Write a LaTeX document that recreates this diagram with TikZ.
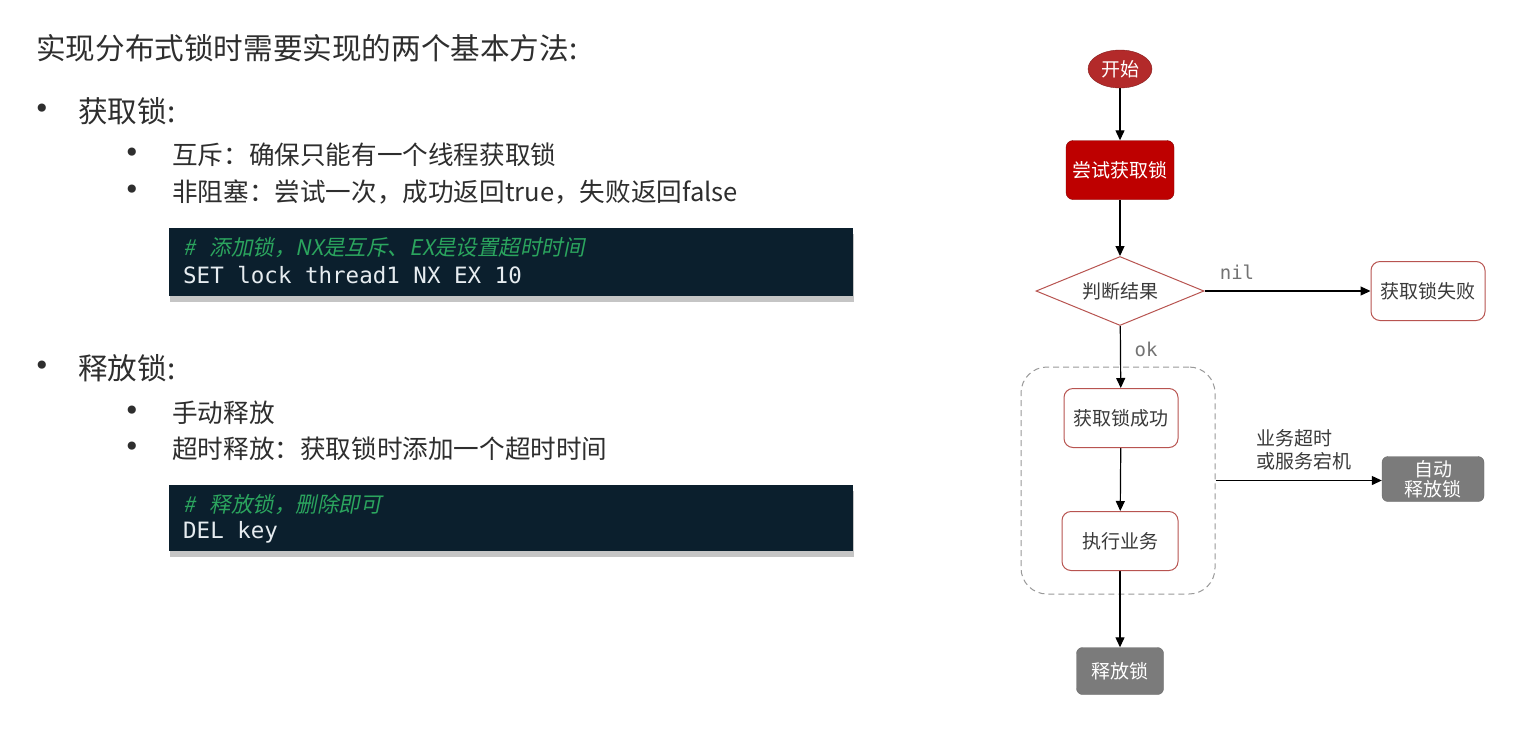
\documentclass[tikz,border=0pt]{standalone}
\usepackage{fontspec}
\setmainfont{Noto Sans CJK SC}
\newfontfamily\codefont{DejaVu Sans Mono}
\newfontfamily\dotfont{DejaVu Sans}
\newfontfamily\notefont{Noto Sans CJK SC}[FakeSlant=0.2]
\usepackage{xcolor}
\usetikzlibrary{backgrounds}
\usetikzlibrary{arrows.meta,shadows}
\usetikzlibrary{shapes,shapes.geometric,shapes.misc}
\pgfdeclarelayer{edgelayer}
\pgfdeclarelayer{nodelayer}
\pgfsetlayers{background,edgelayer,nodelayer,main}
\definecolor{textgray}{HTML}{2E2E2E}
\definecolor{flowtext}{HTML}{3A3A3A}
\definecolor{codebg}{HTML}{0B1F2D}
\definecolor{codetext}{HTML}{E6ECF0}
\definecolor{notegreen}{HTML}{2BA55E}
\definecolor{startred}{HTML}{B32A2A}
\definecolor{lockred}{HTML}{BE0000}
\definecolor{boxred}{HTML}{B85450}
\definecolor{boxgray}{HTML}{7B7B7B}
\tikzstyle{none}=[inner sep=0mm]
\tikzstyle{txt}=[inner sep=0mm,anchor=west,text=textgray,font=\fontsize{29.6}{34}\selectfont]
\tikzstyle{subtxt}=[txt,font=\fontsize{25.6}{30}\selectfont]
\tikzstyle{dotb}=[inner sep=0mm,text=textgray,font=\dotfont\fontsize{28}{30}\selectfont]
\tikzstyle{codebox}=[rectangle,fill=codebg,minimum width=684pt,drop shadow={shadow xshift=1pt,shadow yshift=-6pt,opacity=0.45}]
\tikzstyle{note}=[inner sep=0mm,anchor=west,text=notegreen,font=\notefont\fontsize{21.5}{24}\selectfont]
\tikzstyle{code}=[inner sep=0mm,anchor=west,text=codetext,font=\codefont\fontsize{22.5}{26}\selectfont]
\tikzstyle{rs}=[ellipse,fill=startred,draw=startred!75!black,text=white,minimum width=64pt,minimum height=38pt,inner sep=0pt,font=\fontsize{19}{23}\selectfont]
\tikzstyle{rb}=[rectangle,rounded corners=7pt,fill=lockred,draw=lockred!70!black,text=white,minimum width=108pt,minimum height=59pt,font=\fontsize{19}{23}\selectfont]
\tikzstyle{wb}=[rectangle,rounded corners=9pt,fill=white,draw=boxred,line width=1pt,text=flowtext,minimum width=114pt,minimum height=59pt,font=\fontsize{19}{23}\selectfont]
\tikzstyle{gb}=[rectangle,rounded corners=6pt,fill=boxgray,draw=boxgray!85!black,text=white,align=center,font=\fontsize{19}{23}\selectfont]
\tikzstyle{dm}=[diamond,aspect=2.4,draw=boxred,line width=1pt,fill=white,minimum width=168pt,minimum height=69pt,inner sep=0pt,text=flowtext,font=\fontsize{19}{23}\selectfont]
\tikzstyle{grp}=[rectangle,rounded corners=26pt,draw=gray!80,line width=1pt,dash pattern=on 6pt off 4pt,minimum width=194pt,minimum height=227pt]
\tikzstyle{lbl}=[inner sep=0mm,text=flowtext,font=\fontsize{19}{23}\selectfont]
\tikzstyle{monolbl}=[inner sep=0mm,text=gray!90!black,font=\codefont\fontsize{19}{23}\selectfont]
\tikzstyle{diredge}=[-{Triangle[length=10pt,width=9pt]},line width=1.2pt]

\begin{document}
\begin{tikzpicture}[x=1pt,y=-1pt]
	\useasboundingbox (0,0) rectangle (1536,729);
	\begin{pgfonlayer}{nodelayer}
		\node [style=txt] (t0) at (36, 48) {实现分布式锁时需要实现的两个基本方法:};
		\node [style=dotb] (b1) at (42, 111) {•};
		\node [style=txt] (t1) at (78, 111) {获取锁:};
		\node [style=dotb] (b2) at (132, 155) {•};
		\node [style=subtxt] (t2) at (172, 155) {互斥：确保只能有一个线程获取锁};
		\node [style=dotb] (b3) at (132, 192) {•};
		\node [style=subtxt] (t3) at (172, 192) {非阻塞：尝试一次，成功返回true，失败返回false};
		\node [style=codebox, minimum height=68pt] (c1) at (511, 262) {};
		\node [style=note] (n1) at (183, 248) {\#\ \ \ 添加锁，NX是互斥、EX是设置超时时间};
		\node [style=code] (k1) at (183, 275) {SET lock thread1 NX EX 10};
		\node [style=dotb] (b4) at (42, 368) {•};
		\node [style=txt] (t4) at (78, 368) {释放锁:};
		\node [style=dotb] (b5) at (132, 413) {•};
		\node [style=subtxt] (t5) at (172, 413) {手动释放};
		\node [style=dotb] (b6) at (132, 449) {•};
		\node [style=subtxt] (t6) at (172, 449) {超时释放：获取锁时添加一个超时时间};
		\node [style=codebox, minimum height=66pt] (c2) at (511, 518) {};
		\node [style=note] (n2) at (183, 505) {\#\ \ \ 释放锁，删除即可};
		\node [style=code] (k2) at (183, 532) {DEL key};
		% flow
		\node [style=rs] (1) at (1120, 69) {开始};
		\node [style=rb] (2) at (1120, 170) {尝试获取锁};
		\node [style=dm] (3) at (1120, 291) {判断结果};
		\node [style=wb] (4) at (1428, 291) {获取锁失败};
		\node [style=wb] (5) at (1121, 418) {获取锁成功};
		\node [style=wb, minimum width=116pt] (6) at (1120, 541) {执行业务};
		\node [style=gb, minimum width=87pt, minimum height=47pt] (7) at (1120, 671) {释放锁};
		\node [style=gb, minimum width=102pt, minimum height=45pt, inner sep=0pt] (8) at (1433, 479) {自动\\[-3pt]释放锁};
		\node [style=monolbl] (9) at (1237, 272) {nil};
		\node [style=monolbl] (10) at (1146, 349) {ok};
		\node [style=lbl, align=left] (11) at (1304, 450) {业务超时\\或服务宕机};
	\end{pgfonlayer}
	\begin{pgfonlayer}{background}
		\fill [white] (0,0) rectangle (1536,729);
		\node [style=grp] (12) at (1118, 480.5) {};
	\end{pgfonlayer}
	\begin{pgfonlayer}{edgelayer}
		\draw [style=diredge] (1) to (2);
		\draw [style=diredge] (2) to (3);
		\draw [style=diredge] (3) to (4);
		\draw [style=diredge] (3) to (5);
		\draw [style=diredge] (5) to (6);
		\draw [style=diredge] (6) to (7);
		\draw [style=diredge] (12.east) to (8.west |- 12.east);
	\end{pgfonlayer}
\end{tikzpicture}
\end{document}
